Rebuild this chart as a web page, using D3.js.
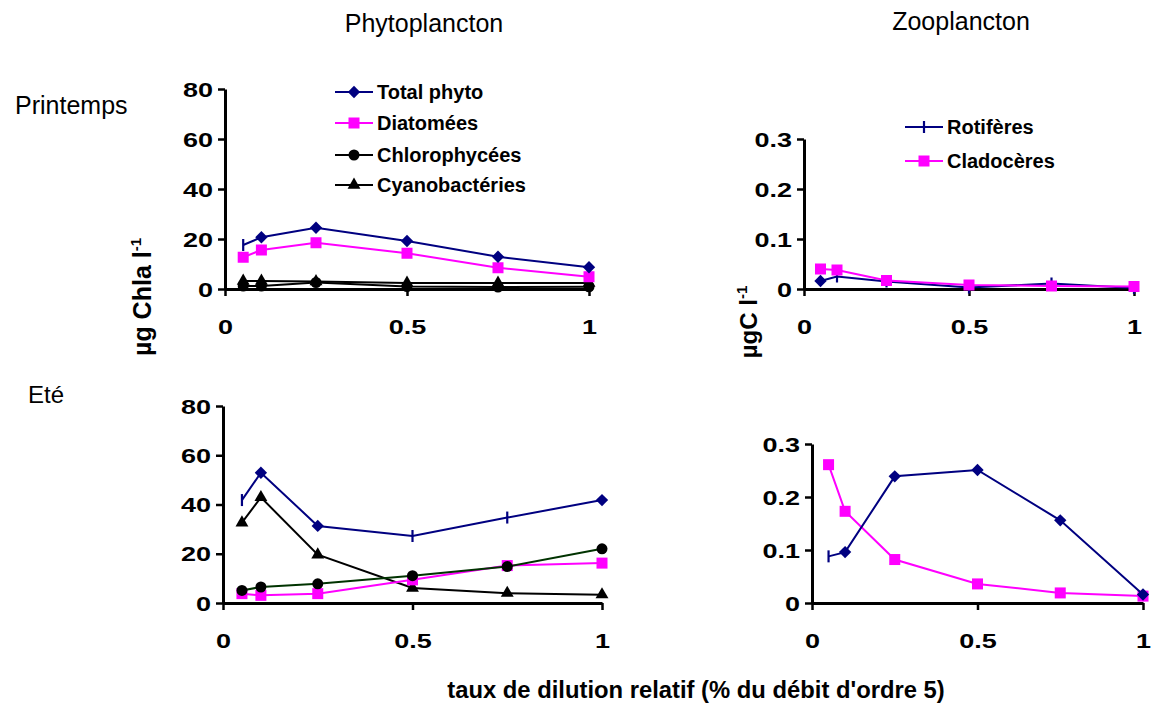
<!DOCTYPE html>
<html lang="fr">

<script src="https://d3js.org/d3.v7.min.js"></script>

<head>
    <meta charset="UTF-8">
    <title>Dilution</title>
    <style>
        body { margin: 0; background: #fff; }
        svg text { font-family: "Liberation Sans", Arial, sans-serif; fill: #000; }
    </style>
</head>
<body>

    <svg width="1151" height="706"></svg>

    <script>
        // x values: relative dilution rate
        const dilution = [0.05, 0.1, 0.25, 0.5, 0.75, 1];

        // Printemps, phyto (µg Chla/l)
        const prTotal  = [17.6, 20.7, 24.5, 19.2, 12.9, 8.7];
        const prDiatom = [12.7, 15.6, 18.5, 14.3, 8.5, 4.9];
        const prChloro = [1.2, 1.2, 2.6, 1.0, 0.8, 0.9];
        const prCyano  = [3.2, 3.2, 3.0, 2.4, 2.4, 2.4];

        // Printemps, zoo (µgC/l)
        const prRotif = [0.016, 0.025, 0.015, 0.003, 0.011, 0.002];
        const prClado = [0.040, 0.038, 0.017, 0.008, 0.006, 0.005];

        // Eté, phyto
        const etTotal  = [41.8, 52.9, 31.3, 27.2, 34.7, 41.8];
        const etDiatom = [3.8, 3.1, 3.8, 9.4, 15.2, 16.2];
        const etChloro = [5.1, 6.5, 7.8, 11.1, 14.8, 22.0];
        const etCyano  = [32.6, 42.9, 19.6, 6.1, 4.0, 3.4];

        // Eté, zoo
        const etRotif = [0.088, 0.096, 0.239, 0.251, 0.156, 0.016];
        const etClado = [0.261, 0.173, 0.082, 0.036, 0.019, 0.013];

        const phytoNames = ["Total phyto", "Diatomées", "Chlorophycées", "Cyanobactéries"];
        const zooNames = ["Rotifères", "Cladocères"];
        const phytoTicks = [0, 20, 40, 60, 80];
        const zooTicks = [0, 0.1, 0.2, 0.3];
        const xTicks = [0, 0.5, 1];

        const svg = d3.select("svg");
        const NAVY = "#000080", PINK = "#ff00ff";

        // panel boxes (pixels)
        const panels = [
            { xr: [225, 589], yr: [289, 89], max: 80, ticks: phytoTicks, series: [
                { v: prCyano, color: "#000", mark: "triangle" },
                { v: prChloro, color: "#000", mark: "circle" },
                { v: prDiatom, color: PINK, mark: "square" },
                { v: prTotal, color: NAVY, mark: ["bar", "diamond", "diamond", "diamond", "diamond", "diamond"] }
            ]},
            { xr: [804, 1134], yr: [289, 139], max: 0.3, ticks: zooTicks, series: [
                { v: prRotif, color: NAVY, mark: ["diamond", "bar", "bar", "bar", "bar", "bar"] },
                { v: prClado, color: PINK, mark: "square" }
            ]},
            { xr: [223, 602], yr: [603, 406], max: 80, ticks: phytoTicks, series: [
                { v: etCyano, color: "#000", mark: "triangle" },
                { v: etDiatom, color: PINK, mark: "square" },
                { v: etChloro, color: "#003300", markColor: "#000", mark: "circle" },
                { v: etTotal, color: NAVY, mark: ["bar", "diamond", "diamond", "bar", "bar", "diamond"] }
            ]},
            { xr: [812, 1143], yr: [603, 444], max: 0.3, ticks: zooTicks, series: [
                { v: etClado, color: PINK, mark: "square" },
                { v: etRotif, color: NAVY, mark: ["bar", "diamond", "diamond", "diamond", "diamond", "diamond"] }
            ]}
        ];

        function drawMark(g, type, cx, cy, color) {
            if (type === "diamond") {
                g.append("path").attr("d", d3.symbol(d3.symbolSquare, 76)())
                    .attr("transform", `translate(${cx},${cy}) rotate(45)`).attr("fill", color);
            } else if (type === "square") {
                g.append("rect").attr("x", cx - 5.5).attr("y", cy - 5.5)
                    .attr("width", 11).attr("height", 11).attr("fill", color);
            } else if (type === "circle") {
                g.append("circle").attr("cx", cx).attr("cy", cy).attr("r", 5.5).attr("fill", color);
            } else if (type === "triangle") {
                g.append("path").attr("d", d3.symbol(d3.symbolTriangle, 72)())
                    .attr("transform", `translate(${cx},${cy})`).attr("fill", color);
            } else if (type === "bar") {
                g.append("line").attr("x1", cx).attr("x2", cx).attr("y1", cy - 6).attr("y2", cy + 6)
                    .attr("stroke", color).attr("stroke-width", 2.2);
            }
        }

        const stretch = 1.35;

        panels.forEach(p => {
            const x = d3.scaleLinear().domain([0, 1]).range(p.xr);
            const y = d3.scaleLinear().domain([0, p.max]).range(p.yr);

            // axes
            const yAxis = svg.append("g").attr("transform", `translate(${p.xr[0]},0)`)
                .call(d3.axisLeft(y).tickValues(p.ticks).tickSize(7).tickSizeOuter(0).tickFormat(d => String(d)));
            yAxis.selectAll("text").attr("x", 0).attr("dy", "0.36em")
                .attr("transform", `translate(-12,0) scale(${stretch},1)`);

            const xAxis = svg.append("g").attr("transform", `translate(0,${p.yr[0]})`)
                .call(d3.axisBottom(x).tickValues(xTicks).tickSize(7).tickSizeOuter(0).tickFormat(d => String(d)));
            xAxis.selectAll("text").attr("y", 0).attr("dy", "0.36em")
                .attr("transform", `translate(0,38) scale(${stretch},1)`);

            [yAxis, xAxis].forEach(a => {
                a.select(".domain").attr("stroke", "#000").attr("stroke-width", 3);
                a.selectAll(".tick line").attr("stroke", "#000").attr("stroke-width", 2.5);
                a.selectAll("text").attr("font-size", 20).attr("font-weight", "bold")
                    .attr("font-family", "'Liberation Sans', Arial, sans-serif").attr("fill", "#000");
            });

            const line = d3.line().x((d, i) => x(dilution[i])).y(d => y(d));
            p.series.forEach(s => {
                svg.append("path").datum(s.v).attr("fill", "none")
                    .attr("stroke", s.color).attr("stroke-width", 2).attr("d", line);
                const g = svg.append("g");
                s.v.forEach((d, i) => {
                    const m = Array.isArray(s.mark) ? s.mark[i] : s.mark;
                    drawMark(g, m, x(dilution[i]), y(d), s.markColor || s.color);
                });
            });
        });

        // legends
        function legend(items, x1, x2, rows) {
            items.forEach((it, i) => {
                const cy = rows[i];
                svg.append("line").attr("x1", x1).attr("x2", x2).attr("y1", cy).attr("y2", cy)
                    .attr("stroke", it.color).attr("stroke-width", 2);
                drawMark(svg.append("g"), it.mark, (x1 + x2) / 2, cy, it.color);
                svg.append("text").attr("x", x2 + 4).attr("y", cy + 7)
                    .attr("font-size", 20).attr("font-weight", "bold").text(it.name);
            });
        }
        legend([
            { name: phytoNames[0], color: NAVY, mark: "diamond" },
            { name: phytoNames[1], color: PINK, mark: "square" },
            { name: phytoNames[2], color: "#000", mark: "circle" },
            { name: phytoNames[3], color: "#000", mark: "triangle" }
        ], 335, 373, [92, 123, 155, 185]);
        legend([
            { name: zooNames[0], color: NAVY, mark: "bar" },
            { name: zooNames[1], color: PINK, mark: "square" }
        ], 905, 943, [127, 161]);

        // titles
        svg.append("text").attr("x", 424).attr("y", 32).attr("text-anchor", "middle")
            .attr("font-size", 25).text("Phytoplancton");
        svg.append("text").attr("x", 961).attr("y", 30).attr("text-anchor", "middle")
            .attr("font-size", 25).text("Zooplancton");
        svg.append("text").attr("x", 15).attr("y", 114).attr("font-size", 25).text("Printemps");
        svg.append("text").attr("x", 28).attr("y", 403).attr("font-size", 24).text("Eté");

        // axis titles
        svg.append("text").attr("x", 696).attr("y", 698).attr("text-anchor", "middle")
            .attr("font-size", 23.8).attr("font-weight", "bold")
            .text("taux de dilution relatif (% du débit d'ordre 5)");

        const yl1 = svg.append("text").attr("transform", "translate(151,297) rotate(-90)")
            .attr("text-anchor", "middle").attr("font-size", 25).attr("font-weight", "bold");
        yl1.append("tspan").text("µg Chla l");
        yl1.append("tspan").attr("dy", -10).attr("font-size", 15).text("-1");

        const yl2 = svg.append("text").attr("transform", "translate(757,322) rotate(-90)")
            .attr("text-anchor", "middle").attr("font-size", 24).attr("font-weight", "bold");
        yl2.append("tspan").text("µgC l");
        yl2.append("tspan").attr("dy", -10).attr("font-size", 15).text("-1");
    </script>
</body>
</html>
